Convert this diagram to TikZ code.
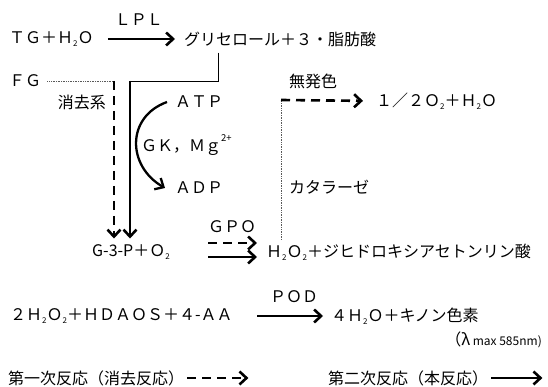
\documentclass[tikz,border=0pt]{standalone}
\usepackage{fontspec}
\setmainfont{Noto Sans CJK JP}
\usetikzlibrary{arrows.meta}
\newcommand\sbs[1]{\raisebox{-.3ex}{\fontsize{8}{8}\selectfont #1}}
\newcommand\sps[1]{\raisebox{1.2ex}{\fontsize{9.5}{9.5}\selectfont #1}}
\tikzset{
  txt/.style={inner sep=0pt,font=\fontsize{16}{18}\selectfont},
  rxn/.style={line width=2.6pt,-{Straight Barb[length=7pt,width=13pt]}},
  elim/.style={rxn,dash pattern=on 9pt off 6pt},
  link/.style={line width=.9pt},
  dots/.style={line width=.7pt,densely dotted,gray!70!black}
}
\begin{document}
\begin{tikzpicture}[x=1pt,y=1pt]
\useasboundingbox (0,0) rectangle (548,387);
\node[txt,anchor=west] (tg) at (9,348) {ＴＧ＋Ｈ\sbs{2}Ｏ};
\node[txt,anchor=west] (gly) at (184,348) {グリセロール＋３・脂肪酸};
\draw[rxn,shorten <=14pt,shorten >=9pt] (tg.east) -- node[txt,above=12pt]{ＬＰＬ} (gly.west);
\node[txt,anchor=west] (fg) at (9,306) {ＦＧ};
\node[txt,anchor=east] (elimsys) at (106,285) {消去系};
\node[txt,anchor=west] (atp) at (175,285) {ＡＴＰ};
\node[txt,anchor=west] (gk) at (141,242) {ＧＫ，Ｍｇ\sps{2+}};
\node[txt,anchor=west] (adp) at (175,199) {ＡＤＰ};
\node[txt,anchor=west] (nocolor) at (289,306) {無発色};
\node[txt,anchor=west] (half) at (376,286) {１／２Ｏ\sbs{2}＋Ｈ\sbs{2}Ｏ};
\node[txt,anchor=west] (catal) at (289,200) {カタラーゼ};
\node[txt,anchor=west] (g3p) at (92,135) {G-3-P＋Ｏ\sbs{2}};
\node[txt] (gpo) at (232,160) {ＧＰＯ};
\node[txt,anchor=west] (h2o2) at (266,135) {Ｈ\sbs{2}Ｏ\sbs{2}＋ジヒドロキシアセトンリン酸};
\node[txt,anchor=west] (hdaos) at (10,71) {２Ｈ\sbs{2}Ｏ\sbs{2}＋ＨＤＡＯＳ＋４-ＡＡ};
\node[txt,anchor=west] (quin) at (331,71) {４Ｈ\sbs{2}Ｏ＋キノン色素};
\node[txt,anchor=east] (lmax) at (542,47) {（λ\,{\fontsize{12}{14}\selectfont max 585nm)}};
\node[txt,anchor=west] (leg1) at (8,9) {第一次反応（消去反応）};
\node[txt,anchor=west] (leg2) at (328,9) {第二次反応（本反応）};
% glycerol and FG down to G-3-P
\coordinate (gbend) at (218,306);
\coordinate (gcorner) at (130,306);
\coordinate (fcorner) at (114,306);
\draw[link] ([yshift=-6pt]gly.south -| gbend) -- (gbend) -- (gcorner);
\draw[rxn,shorten >=6pt] (gcorner) -- (gcorner |- g3p.north);
\draw[dots,shorten <=6pt] (fg) -- (fcorner);
\draw[elim,shorten >=6pt] (fcorner) -- (fcorner |- g3p.north);
\draw[line width=2.3pt,-{Straight Barb[length=7pt,width=13pt]}] ([xshift=-8pt]atp.west) to[out=200,in=150,looseness=1.3] ([xshift=-10pt]adp.west);
% catalase
\coordinate (ccorner) at (281,287);
\draw[dots,shorten <=4pt] (h2o2.north -| ccorner) -- (ccorner);
\draw[elim,shorten >=13pt] (ccorner) -- (half.west);
% GPO
\coordinate (gpoa) at (208,144);
\coordinate (gpob) at (208,130);
\draw[elim,shorten >=9pt] (gpoa) -- (gpoa -| h2o2.west);
\draw[rxn,shorten >=9pt] (gpob) -- (gpob -| h2o2.west);
% POD
\coordinate (podl) at (257,71);
\draw[rxn,shorten >=8pt] (podl) -- node[txt,above=12pt]{ＰＯＤ} (quin.west);
% legend
\path (leg1.east) ++(64,0) coordinate (k1);
\path (leg2.east) ++(54,0) coordinate (k2);
\draw[elim,shorten <=3pt] (leg1.east) -- (k1);
\draw[rxn,shorten <=3pt] (leg2.east) -- (k2);
\end{tikzpicture}
\end{document}
